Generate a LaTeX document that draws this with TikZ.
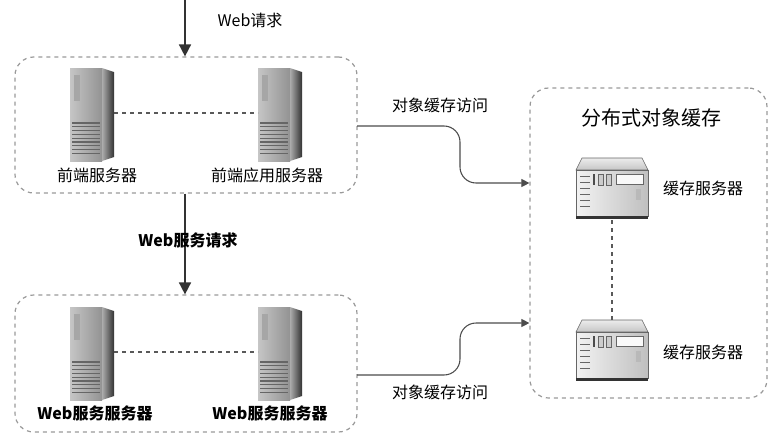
\documentclass[tikz,border=0pt]{standalone}
\usepackage{fontspec}
\setmainfont{Noto Sans CJK SC}
\usetikzlibrary{arrows.meta}
\begin{document}
\begin{tikzpicture}[x=0.75pt,y=-0.75pt,
  grp/.style={draw=gray!80,dashed,line width=0.9pt,rounded corners=14pt},
  link/.style={draw=gray!70!black,dashed,line width=0.9pt},
  flow/.style={draw=black!80,line width=1.2pt,-{Triangle[length=9pt,width=9pt]}},
  acc/.style={draw=black!70,line width=0.8pt,rounded corners=12pt,-{Triangle[length=6pt,width=6pt]}},
  lbl/.style={font=\fontsize{12}{14}\selectfont},
  blbl/.style={font=\bfseries\fontsize{12}{14}\selectfont},
  tower/.pic={
    \shade[left color=gray!45,right color=gray!85] (-22,-45) rectangle (10,48);
    \shade[left color=gray!65,right color=black!80] (10,-45) -- (22,-41) -- (22,44) -- (10,48) -- cycle;
    \fill[gray!70] (-18,-38) rectangle (-12,-12);
    \foreach \i in {0,...,8} \draw[black!60,line width=0.8pt] (-20,{10+\i*3.8}) -- (8,{10+\i*3.8});
  },
  cache/.pic={
    \shade[top color=gray!15,bottom color=gray!45,draw=black!60] (-36,-18) -- (-30,-30) -- (30,-30) -- (36,-18) -- cycle;
    \shade[left color=gray!10,right color=gray!50,draw=black!60] (-36,-18) rectangle (36,28);
    \fill[black!80] (-36,28) rectangle (36,31);
    \foreach \i in {0,...,5} \draw[black!60] (-32,{-12+\i*6}) -- (-22,{-12+\i*6});
    \fill[black!70] (-19,-14) rectangle (-17,-3);
    \draw[black!60,fill=gray!40] (-14,-14) rectangle (-9,-3);
    \draw[black!60,fill=gray!40] (-6,-14) rectangle (-1,-3);
    \draw[black!60,fill=gray!5] (4,-14) rectangle (31,-4);
    \fill[gray!55] (24,1) rectangle (29,12);
  }]
\useasboundingbox (0,0) rectangle (777,437);
\node[grp,minimum width=342*0.75pt,minimum height=136*0.75pt] (g1) at (186,125) {};
\node[grp,minimum width=342*0.75pt,minimum height=137*0.75pt] (g2) at (186,363.5) {};
\node[grp,minimum width=237*0.75pt,minimum height=310*0.75pt] (g3) at (648.5,243) {};
\coordinate (top) at (185,0);
\draw[flow] (top) -- (g1.north -| top);
\node[lbl] (wr) at (250,20) {Web请求};
\draw[flow] (g1.south -| top) -- (g2.north -| top);
\node[blbl] (wsr) at (188,240) {Web服务请求};
\pic at (92,113) {tower};
\pic at (280,113) {tower};
\coordinate (t1r) at (114,113); \coordinate (t2l) at (258,113);
\draw[link] (t1r) -- (t2l);
\node[lbl] (a1) at (97,175) {前端服务器};
\node[lbl] (a2) at (267,175) {前端应用服务器};
\pic at (92,352) {tower};
\pic at (280,352) {tower};
\coordinate (t3r) at (114,352); \coordinate (t4l) at (258,352);
\draw[link] (t3r) -- (t4l);
\node[blbl] (b1) at (95,413) {Web服务服务器};
\node[blbl] (b2) at (270,413) {Web服务服务器};
\node[font=\fontsize{15}{17}\selectfont] (title) at (651,118) {分布式对象缓存};
\pic at (612,188) {cache};
\pic at (612,350) {cache};
\coordinate (c1b) at (612,220); \coordinate (c2t) at (612,320);
\draw[link] (c1b) -- (c2t);
\node[lbl] (c1) at (703,188) {缓存服务器};
\node[lbl] (c2) at (703,352) {缓存服务器};
\coordinate (e1) at (357,126); \coordinate (e2) at (357,375);
\draw[acc] (e1) -- (460,126) -- (460,183) -- (g3.west |- 0,183);
\draw[acc] (e2) -- (460,375) -- (460,323) -- (g3.west |- 0,323);
\node[lbl] (l1) at (440,105) {对象缓存访问};
\node[lbl] (l2) at (440,392) {对象缓存访问};
\end{tikzpicture}
\end{document}
